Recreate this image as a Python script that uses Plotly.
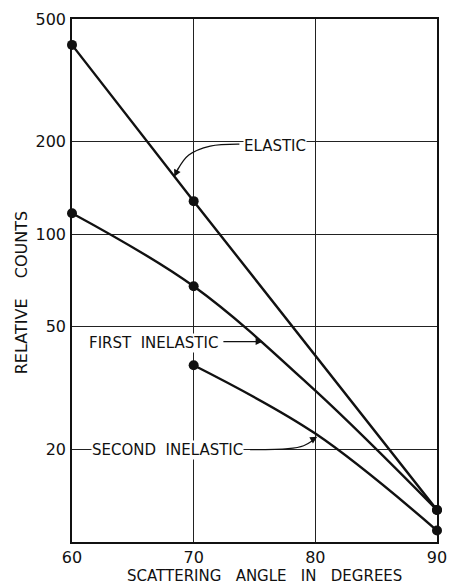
import math
import plotly.graph_objects as go

# Scattered intensity vs. scattering angle (log counts)
elastic_angle = [60, 70, 90]
elastic_counts = [412, 128, 12.7]

first_angle = [60, 70, 80, 90]
first_counts = [117, 67.7, 31.0, 12.7]
first_measured = [True, True, False, True]

second_angle = [70, 80, 90]
second_counts = [37.5, 22.5, 10.9]
second_measured = [True, False, True]

x_ticks = [60, 70, 80, 90]
y_ticks = [20, 50, 100, 200, 500]
y_tick_text = ["20", "50", "100", "200", "500"]

FONT = "DejaVu Sans"
INK = "#111111"
W, H = 457, 586
ML, MR, MT, MB = 72, 10, 15, 44
PW, PH = W - ML - MR, H - MT - MB


def px(xp):
    return (xp - ML) / PW


def py(yp):
    return (H - MB - yp) / PH


def nb(s):
    return s.replace(" ", "\u00a0")


fig = go.Figure()


def series(angle, counts, measured, shape):
    fig.add_trace(go.Scatter(
        x=angle, y=counts, mode="lines+markers", cliponaxis=False,
        line=dict(color=INK, width=2.4, shape=shape, smoothing=1.0),
        marker=dict(color=INK, opacity=1, line=dict(width=0),
                    size=[10 if m else 0 for m in measured]),
        hoverinfo="skip", showlegend=False,
    ))


series(elastic_angle, elastic_counts, [True] * len(elastic_angle), "linear")
series(first_angle, first_counts, first_measured, "spline")
series(second_angle, second_counts, second_measured, "spline")

# curved leader lines, drawn on an overlay axis spanning the plot area
leaders = [
    [(244, 141), (214, 143), (192, 152), (181, 166)],
    [(255, 449), (294, 448), (310, 445), (319, 440)],
]
for pts in leaders:
    fig.add_trace(go.Scatter(
        x=[px(a) for a, _ in pts], y=[py(b) for _, b in pts],
        xaxis="x2", yaxis="y2", mode="lines",
        line=dict(color=INK, width=1.3, shape="spline", smoothing=1.0),
        hoverinfo="skip", showlegend=False,
    ))

annotations = []
label_font = dict(family=FONT, size=15, color=INK)

for text, cx, cy in [("ELASTIC", 281, 143),
                     ("FIRST  INELASTIC", 156, 341),
                     ("SECOND  INELASTIC", 170, 449)]:
    annotations.append(dict(
        text=nb(text), x=px(cx), y=py(cy), xref="paper", yref="paper",
        showarrow=False, font=label_font, bgcolor="white",
        xanchor="center", yanchor="middle", borderpad=0,
    ))

# arrow heads
for tip, tail in [((177, 174), (182, 164)),
                  ((268, 340), (226, 340)),
                  ((324, 436), (317, 440))]:
    annotations.append(dict(
        x=px(tip[0]), y=py(tip[1]), xref="x2", yref="y2",
        ax=px(tail[0]), ay=py(tail[1]), axref="x2", ayref="y2",
        showarrow=True, arrowhead=2, arrowsize=1.1, arrowwidth=1.3,
        arrowcolor=INK, text="", standoff=0,
    ))

annotations.append(dict(
    text=nb("SCATTERING   ANGLE   IN   DEGREES"), x=px(270), y=py(576),
    xref="paper", yref="paper", showarrow=False,
    font=dict(family=FONT, size=15, color=INK), xanchor="center", yanchor="middle",
))
annotations.append(dict(
    text=nb("RELATIVE    COUNTS"), x=px(21), y=py(291),
    xref="paper", yref="paper", showarrow=False, textangle=-90,
    font=dict(family=FONT, size=16, color=INK), xanchor="center", yanchor="middle",
))

fig.update_layout(
    width=W, height=H,
    margin=dict(l=ML, r=MR, t=MT, b=MB),
    paper_bgcolor="white", plot_bgcolor="white",
    showlegend=False,
    annotations=annotations,
    xaxis=dict(
        range=[60, 90], tickvals=x_ticks, ticks="",
        showgrid=True, gridcolor="#222222", gridwidth=1,
        showline=True, linecolor=INK, linewidth=1.6, mirror=True,
        zeroline=False, tickfont=dict(family=FONT, size=16, color=INK),
        ticklabelstandoff=0,
    ),
    yaxis=dict(
        type="log", range=[1, math.log10(500)],
        tickvals=y_ticks, ticktext=y_tick_text, ticks="",
        showgrid=True, gridcolor="#222222", gridwidth=1,
        showline=True, linecolor=INK, linewidth=1.6, mirror=True,
        zeroline=False, tickfont=dict(family=FONT, size=16, color=INK),
        ticklabelstandoff=1,
    ),
    xaxis2=dict(range=[0, 1], overlaying="x", visible=False, fixedrange=True),
    yaxis2=dict(range=[0, 1], overlaying="y", visible=False, fixedrange=True),
)

fig.write_html("out.html")
